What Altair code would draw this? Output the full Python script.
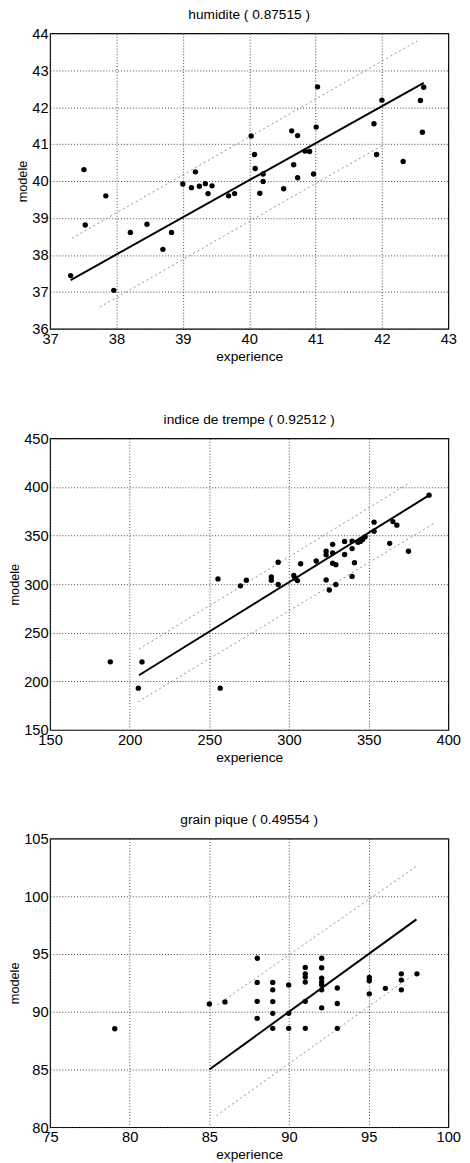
import altair as alt
import pandas as pd

FONT = "Liberation Sans"

# ---------------- Panel 1 : humidite ----------------
hum_x = [37.31, 37.51, 37.53, 37.84, 37.96, 38.21, 38.46, 38.70, 38.83, 39.00,
         39.13, 39.19, 39.25, 39.34, 39.38, 39.44, 39.69, 39.78, 40.03, 40.08,
         40.09, 40.16, 40.21, 40.21, 40.52, 40.64, 40.67, 40.73, 40.73, 40.84,
         40.91, 40.97, 41.01, 41.03, 41.88, 41.92, 42.00, 42.32, 42.58, 42.61, 42.63]
hum_y = [37.44, 40.31, 38.81, 39.60, 37.04, 38.61, 38.83, 38.15, 38.61, 39.92,
         39.82, 40.25, 39.86, 39.93, 39.66, 39.87, 39.60, 39.66, 41.22, 40.72,
         40.34, 39.67, 40.19, 39.99, 39.79, 41.36, 40.44, 41.23, 40.09, 40.81,
         40.80, 40.19, 41.46, 42.55, 41.55, 40.72, 42.19, 40.53, 42.18, 41.32, 42.54]
hum_fit_x = [37.31, 42.63]
hum_fit_y = [37.32, 42.66]
hum_up_x = [37.33, 42.53]
hum_up_y = [38.45, 43.79]
hum_lo_x = [37.75, 42.00]
hum_lo_y = [36.59, 40.96]
hum_xticks = [37, 38, 39, 40, 41, 42, 43]
hum_yticks = [36, 37, 38, 39, 40, 41, 42, 43, 44]

# ---------------- Panel 2 : indice de trempe ----------------
tre_x = [187.8, 205.4, 207.7, 255.4, 256.8, 269.5, 273.2, 288.9, 288.9, 293.2,
         293.2, 303.0, 303.8, 305.3, 307.3, 317.1, 323.3, 323.3, 323.3, 325.3,
         327.4, 327.4, 327.4, 329.4, 329.4, 334.9, 334.9, 339.6, 339.6, 339.6,
         341.1, 343.3, 344.8, 346.2, 347.8, 353.4, 353.4, 363.2, 365.2, 367.7,
         375.0, 387.9]
tre_y = [220.1, 193.0, 220.0, 305.4, 193.0, 298.3, 304.0, 307.4, 304.0, 322.5,
         299.7, 309.0, 305.7, 303.7, 321.0, 323.8, 333.9, 330.2, 304.4, 294.0,
         341.0, 332.2, 321.5, 320.1, 299.7, 344.0, 330.5, 344.3, 336.6, 308.0,
         322.1, 343.0, 344.0, 346.0, 348.7, 363.8, 354.4, 342.0, 364.4, 360.7,
         333.9, 391.6]
tre_fit_x = [205.8, 388.8]
tre_fit_y = [206.3, 392.3]
tre_up_x = [205.8, 376.3]
tre_up_y = [233.2, 405.0]
tre_lo_x = [205.3, 391.6]
tre_lo_y = [179.1, 363.1]
tre_xticks = [150, 200, 250, 300, 350, 400]
tre_yticks = [150, 200, 250, 300, 350, 400, 450]

# ---------------- Panel 3 : grain pique ----------------
gra_x = [79.06, 85.00, 85.98, 88.01, 88.00, 88.00, 88.00, 88.98, 88.98, 88.98,
         88.98, 88.98, 89.98, 89.98, 89.98, 91.02, 91.02, 91.02, 91.02, 91.02,
         91.02, 92.05, 92.05, 92.05, 92.05, 92.05, 92.05, 92.05, 93.03, 93.03,
         93.03, 95.04, 95.04, 95.04, 96.05, 97.05, 97.05, 97.05, 98.03]
gra_y = [88.53, 90.68, 90.85, 94.63, 92.54, 90.90, 89.43, 92.54, 91.90, 90.88,
         89.86, 88.56, 92.32, 89.86, 88.56, 93.84, 93.28, 93.00, 92.57, 90.90,
         88.56, 94.63, 93.81, 92.90, 92.57, 92.34, 91.90, 90.34, 92.06, 90.71,
         88.56, 92.97, 92.68, 91.55, 92.03, 93.28, 92.74, 91.90, 93.28]
gra_fit_x = [85.0, 98.0]
gra_fit_y = [85.0, 98.0]
gra_up_x = [85.5, 98.0]
gra_up_y = [90.6, 102.6]
gra_lo_x = [85.44, 97.73]
gra_lo_y = [81.0, 93.14]
gra_xticks = [75, 80, 85, 90, 95, 100]
gra_yticks = [80, 85, 90, 95, 100, 105]


def panel(title, px, py, fx, fy, ux, uy, lx, ly, xticks, yticks, h):
    xs = alt.Scale(domain=[xticks[0], xticks[-1]], nice=False, zero=False)
    ys = alt.Scale(domain=[yticks[0], yticks[-1]], nice=False, zero=False)
    xax = alt.Axis(values=xticks, grid=True, gridDash=[1, 2], gridColor="#444",
                   gridWidth=1, ticks=False, domain=False, labelFlush=False,
                   labelOverlap=False, labelFontSize=15, labelPadding=3,
                   labelColor="black", titleFontSize=14, titleFontWeight="normal",
                   titlePadding=3, titleColor="black", title="experience")
    yax = alt.Axis(values=yticks, grid=True, gridDash=[1, 2], gridColor="#444",
                   gridWidth=1, ticks=False, domain=False, labelFlush=False,
                   labelOverlap=False, labelFontSize=15, labelPadding=2,
                   labelColor="black", titleFontSize=13, titleFontWeight="normal",
                   titlePadding=2, titleColor="black", title="modele")
    pts = pd.DataFrame({"experience": px, "modele": py})
    fit = pd.DataFrame({"experience": fx, "modele": fy})
    band = pd.DataFrame({
        "experience": ux + lx,
        "modele": uy + ly,
        "g": ["up"] * len(ux) + ["lo"] * len(lx),
    })
    enc_x = alt.X("experience:Q", scale=xs, axis=xax)
    enc_y = alt.Y("modele:Q", scale=ys, axis=yax)
    bands = alt.Chart(band).mark_line(color="#8a8a8a", strokeWidth=1,
                                      strokeDash=[2, 3]).encode(
        x=enc_x, y=enc_y, detail="g:N")
    line = alt.Chart(fit).mark_line(color="black", strokeWidth=2).encode(
        x=enc_x, y=enc_y)
    dots = alt.Chart(pts).mark_circle(color="black", size=30, opacity=1).encode(
        x=enc_x, y=enc_y)
    return alt.layer(bands, line, dots).properties(
        width=407, height=h,
        title=alt.TitleParams(title, fontSize=14, fontWeight="normal",
                              font=FONT, color="black", offset=5),
    )


p1 = panel("humidite ( 0.87515 )", hum_x, hum_y, hum_fit_x, hum_fit_y,
           hum_up_x, hum_up_y, hum_lo_x, hum_lo_y, hum_xticks, hum_yticks, 302)
p2 = panel("indice de trempe ( 0.92512 )", tre_x, tre_y, tre_fit_x, tre_fit_y,
           tre_up_x, tre_up_y, tre_lo_x, tre_lo_y, tre_xticks, tre_yticks, 298)
p3 = panel("grain pique ( 0.49554 )", gra_x, gra_y, gra_fit_x, gra_fit_y,
           gra_up_x, gra_up_y, gra_lo_x, gra_lo_y, gra_xticks, gra_yticks, 295)

top_two = alt.vconcat(p1, p2, spacing=49)
chart = alt.vconcat(top_two, p3, spacing=48).properties(
    padding={"left": 0, "top": -14, "right": 0, "bottom": 0}
).configure(font=FONT).configure_view(stroke="black", strokeWidth=1.2)

chart.save("out.html", embed_options={"renderer": "svg", "actions": False})
